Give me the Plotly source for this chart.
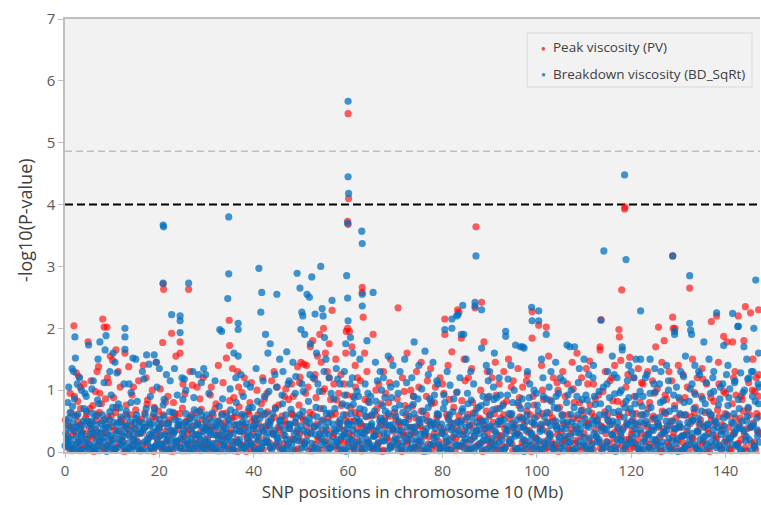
import plotly.graph_objects as go

# ---------------- data ----------------
# Peak viscosity (PV) -- higher/scattered SNPs
pv_high = [
(1.9,2.04),(2.4,1.28),(2.9,1.22),(3.2,1.05),(4.9,1.78),(5.5,1.15),(6.8,1.3),(7.1,1.38),(7.4,0.95),(8.0,2.15),
(8.3,2.02),(8.9,2.02),(9.2,1.12),(9.6,1.55),(10.1,1.48),(10.8,1.65),(11.3,1.3),(12.7,1.6),(13.5,1.38),(14.5,1.05),
(16.6,1.4),(17.2,1.2),(18.5,1.0),(19.4,1.45),(20.7,1.77),(20.8,2.72),(20.9,2.63),(22.6,1.92),(23.5,1.55),(24.4,1.78),
(24.4,1.6),(25.0,1.1),(26.2,2.63),(26.5,1.3),(28.0,1.05),(29.3,1.2),
(31.0,1.05),(32.5,1.4),(34.8,2.13),(34.9,1.72),(34.2,1.52),(35.5,1.35),(36.6,1.3),(36.8,1.05),(38.0,1.2),(39.5,1.12),
(41.9,1.2),(42.8,0.95),(44.3,1.3),(45.0,1.05),(46.5,0.9),(48.0,1.1),(49.3,1.38),(49.8,1.21),(50.0,1.45),(50.6,1.42),
(51.2,1.4),(52.0,1.7),(52.5,1.8),(53.0,1.25),(53.5,1.55),(54.0,1.9),(54.3,1.45),(54.8,2.0),(55.2,1.6),(55.6,1.3),
(56.0,1.75),(56.6,2.29),(57.0,1.1),(57.4,1.5),(58.0,0.95),(58.5,1.25),(59.6,1.95),(59.9,2.0),(60.0,5.47),(60.1,4.10),
(59.9,3.73),(60.0,3.68),(59.5,1.6),
(60.3,1.95),(60.8,1.7),(61.5,1.4),(62.0,1.2),(63.0,2.66),(63.0,2.58),(63.2,2.18),(63.5,1.6),(64.0,1.3),(65.3,1.9),
(66.5,1.1),(67.5,1.3),(68.0,0.95),(69.0,1.5),(70.6,2.33),(71.5,1.2),(72.5,1.6),(73.3,1.0),(74.5,1.3),(75.5,1.45),
(76.8,1.15),(77.5,1.35),(78.5,1.05),(79.5,1.2),(80.5,2.15),(80.5,1.9),(81.2,1.4),(82.0,1.62),(83.2,2.3),(83.5,2.26),
(84.0,1.84),(84.6,1.5),(85.5,1.2),(86.2,1.35),(87.1,3.64),(86.9,2.33),(88.3,2.42),(88.8,1.78),(89.5,1.3),
(90.5,1.2),(91.2,1.45),(92.0,1.1),(93.0,1.3),(94.0,1.5),(95.0,1.15),(96.0,1.35),(97.0,1.05),(98.0,1.25),(99.0,2.27),
(99.0,1.84),(100.4,2.05),(101.0,1.4),(102.0,2.02),(102.5,1.55),(103.5,1.2),(104.5,1.0),(105.5,1.3),(106.5,1.1),(107.5,1.45),
(108.5,1.6),(109.5,1.2),(110.5,1.35),(111.2,1.47),(112.0,1.1),(113.4,1.7),(113.4,1.65),(113.6,2.14),(114.5,1.3),(115.5,1.15),
(116.5,1.4),(117.4,1.98),(117.5,1.86),(117.8,1.48),(118.0,2.62),(118.6,3.93),(118.7,3.96),(119.3,1.25),(119.7,1.53),
(120.5,1.2),(121.5,1.35),(122.5,1.1),(123.5,1.3),(124.5,1.15),(125.2,1.7),(125.8,2.02),(126.5,1.45),(127.0,1.8),(128.0,1.3),
(128.8,3.17),(128.8,2.18),(128.9,2.0),(129.3,2.0),(130.0,1.4),(131.0,1.25),(132.4,2.65),(133.0,1.5),(134.0,1.2),(135.0,1.35),
(136.0,1.1),(137.0,2.11),(138.1,2.2),(138.5,1.45),(139.6,1.87),(140.3,1.78),(141.5,1.78),(142.0,1.3),(142.7,2.2),(143.9,1.8),
(144.2,2.35),(145.3,2.25),(145.8,1.5),(146.5,1.2),(147.0,2.3),
]
# PV -- intermediate level (about 0.7 to 1.25)
pv_mid = [
(1.1,0.95),(2.7,0.82),(4.0,1.1),(5.3,0.7),(6.4,0.98),(7.7,0.78),(9.0,1.2),(10.3,0.88),(11.7,1.05),(13.0,0.76),
(14.2,0.92),(15.6,1.15),(17.5,0.84),(18.9,0.72),(20.2,1.02),(21.8,0.9),(23.0,0.8),(25.4,0.94),(27.0,1.08),(28.6,0.86),
(30.8,0.92),(32.0,0.78),(33.5,1.12),(35.8,0.88),(37.5,0.96),(39.2,0.8),(40.7,1.0),(42.3,0.86),(43.8,1.15),(45.3,0.76),
(46.8,1.02),(48.4,0.9),(49.7,1.12),(51.5,1.05),(52.9,1.18),(54.6,0.98),(56.0,1.2),(57.6,0.84),(59.1,1.1),
(61.0,0.9),(62.6,1.15),(64.2,0.82),(65.9,1.0),(67.0,0.78),(68.8,1.12),(70.4,0.86),(71.9,0.98),(73.6,0.74),(75.0,1.05),
(76.6,0.9),(78.3,0.8),(80.0,1.1),(81.5,0.85),(83.0,0.96),(84.8,1.15),(86.4,0.8),(88.1,1.0),(89.6,0.88),
(91.4,0.92),(92.9,0.78),(94.6,1.05),(96.3,0.88),(97.8,1.15),(99.4,0.76),(101.2,1.0),(102.8,0.84),(104.3,1.12),(106.0,0.9),
(107.7,1.02),(109.1,0.8),(110.8,1.1),(112.4,0.86),(114.0,0.98),(115.9,1.2),(117.1,0.82),(118.9,1.05),
(120.7,0.9),(122.2,1.12),(123.9,0.8),(125.5,1.02),(127.2,0.92),(128.6,1.15),(130.3,0.84),(131.9,1.05),(133.4,0.96),(135.2,1.18),
(136.9,0.88),(138.6,1.1),(140.0,0.95),(141.7,1.2),(143.3,0.9),(144.9,1.12),(146.2,0.98),(147.1,1.25),
]

# PV -- dense low band
pv_band_a = [
(0.3,0.15),(0.7,0.42),(1.0,0.05),(1.4,0.63),(1.7,0.28),(2.0,0.9),(2.4,0.12),(2.8,0.48),(3.1,0.02),(3.3,0.7),
(3.7,0.33),(4.1,0.09),(4.4,0.55),(4.8,0.21),(5.2,0.38),(5.6,0.04),(5.9,0.75),(6.3,0.26),(6.6,0.51),(7.0,0.11),
(7.3,0.64),(7.8,0.3),(8.2,0.07),(8.6,0.86),(8.9,0.45),(9.3,0.18),(9.8,0.58),(10.2,0.03),(10.5,0.35),(10.9,0.72),
(11.4,0.14),(11.8,0.5),(12.1,0.24),(12.5,0.01),(12.9,0.61),(13.3,0.37),(13.8,0.08),(14.1,0.44),(14.6,0.19),(15.0,0.68),
(15.4,0.29),(15.8,0.02),(16.2,0.53),(16.5,0.13),(17.0,0.4),(17.4,0.77),(17.7,0.22),(18.2,0.06),(18.6,0.57),(19.0,0.32),
(19.3,0.1),(19.8,0.66),(20.1,0.27),(20.5,0.46),(21.0,0.05),(21.3,0.81),(21.7,0.2),(22.1,0.52),(22.5,0.34),(22.8,0.01),
(23.3,0.62),(23.7,0.16),(24.0,0.43),(24.5,0.07),(24.9,0.71),(25.2,0.25),(25.7,0.5),(26.0,0.12),(26.4,0.36),(26.9,0.6),
(27.3,0.03),(27.6,0.28),(28.1,0.47),(28.5,0.15),(28.9,0.69),(29.2,0.09),(29.7,0.39),
]
pv_band_b = [
(30.2,0.22),(30.6,0.55),(31.0,0.08),(31.3,0.4),(31.8,0.7),(32.1,0.14),(32.5,0.31),(32.9,0.02),(33.3,0.62),(33.6,0.26),
(34.0,0.48),(34.5,0.1),(34.9,0.83),(35.2,0.35),(35.7,0.05),(36.0,0.57),(36.4,0.2),(36.9,0.73),(37.2,0.12),(37.6,0.44),
(38.0,0.29),(38.4,0.01),(38.8,0.66),(39.1,0.17),(39.6,0.5),(40.0,0.07),(40.4,0.38),(40.9,0.6),(41.2,0.23),(41.6,0.78),
(42.0,0.04),(42.5,0.42),(42.9,0.65),(43.3,0.15),(43.7,0.53),(44.2,0.3),(44.6,0.72),(45.0,0.09),(45.5,0.36),(46.0,0.58),
(46.4,0.13),(46.9,0.45),(47.4,0.85),(47.8,0.21),(48.3,0.6),(48.7,0.03),(49.1,0.33),(49.6,0.76),(50.0,0.18),(50.5,0.52),
(51.0,0.95),(51.4,0.27),(51.9,0.64),(52.3,0.06),(52.8,0.41),(53.2,0.88),(53.6,0.2),(54.1,0.7),(54.5,0.34),(55.0,1.02),
(55.4,0.12),(55.8,0.55),(56.3,0.85),(56.8,0.25),(57.3,0.62),(57.8,0.04),(58.2,0.4),(58.6,0.75),(59.0,0.16),(59.4,0.5),
(59.8,0.92),
]
pv_band_c = [
(60.2,0.3),(60.5,0.72),(60.9,0.08),(61.3,0.5),(61.6,1.05),(62.0,0.19),(62.4,0.62),(62.8,0.02),(63.2,0.41),(63.6,0.85),
(64.0,0.13),(64.4,0.35),(64.9,0.58),(65.3,0.05),(65.7,0.27),(66.1,0.7),(66.5,0.16),(66.9,0.44),(67.3,0.01),(67.8,0.55),
(68.2,0.23),(68.6,0.8),(69.0,0.1),(69.5,0.38),(69.9,0.64),(70.3,0.2),(70.8,0.47),(71.2,0.04),(71.6,0.32),(72.1,0.75),
(72.5,0.14),(72.9,0.53),(73.3,0.28),(73.8,0.9),(74.2,0.07),(74.6,0.42),(75.1,0.18),(75.5,0.66),(75.9,0.35),(76.4,0.02),
(76.8,0.5),(77.2,0.25),(77.7,0.78),(78.1,0.11),(78.5,0.45),(79.0,0.6),(79.4,0.06),(79.8,0.31),(80.3,0.95),(80.7,0.17),
(81.1,0.56),(81.6,0.03),(82.0,0.4),(82.4,0.72),(82.9,0.22),(83.3,0.5),(83.7,0.09),(84.1,0.83),(84.6,0.34),(85.0,0.15),
(85.4,0.61),(85.9,0.04),(86.3,0.44),(86.7,0.26),(87.2,0.7),(87.6,0.12),(88.0,0.52),(88.5,0.01),(88.9,0.37),(89.3,0.66),
(89.7,0.2),
]
pv_band_d = [
(90.3,0.15),(90.7,0.48),(91.1,0.04),(91.5,0.7),(91.9,0.27),(92.3,0.55),(92.8,0.1),(93.2,0.38),(93.6,0.82),(94.1,0.2),
(94.5,0.6),(94.9,0.02),(95.3,0.44),(95.8,0.31),(96.2,0.75),(96.6,0.08),(97.1,0.52),(97.5,0.18),(97.9,0.66),(98.4,0.35),
(98.8,0.01),(99.2,0.9),(99.6,0.24),(100.1,0.58),(100.5,0.12),(100.9,0.42),(101.4,0.85),(101.8,0.05),(102.2,0.33),(102.7,0.63),
(103.1,0.16),(103.5,0.5),(104.0,0.07),(104.4,0.28),(104.8,0.72),(105.3,0.13),(105.7,0.46),(106.1,0.22),(106.6,0.6),(107.0,0.03),
(107.4,0.37),(107.9,0.8),(108.3,0.19),(108.7,0.54),(109.2,0.09),(109.6,0.68),(110.0,0.3),(110.5,0.02),(110.9,0.45),(111.3,0.76),
(111.8,0.14),(112.2,0.57),(112.6,0.25),(113.1,0.92),(113.5,0.06),(113.9,0.4),(114.4,0.65),(114.8,0.17),(115.2,0.5),(115.7,0.03),
(116.1,0.83),(116.5,0.32),(117.0,0.11),(117.4,0.6),(117.8,0.26),(118.3,0.78),(118.7,0.05),(119.1,0.47),(119.6,0.2),
]
pv_band_e = [
(120.2,0.35),(120.6,0.08),(121.0,0.62),(121.4,0.2),(121.9,0.8),(122.3,0.04),(122.7,0.46),(123.2,0.27),(123.6,0.7),(124.0,0.12),
(124.5,0.53),(124.9,0.95),(125.3,0.18),(125.8,0.4),(126.2,0.02),(126.6,0.66),(127.1,0.3),(127.5,0.85),(127.9,0.1),(128.4,0.5),
(128.8,0.24),(129.2,0.75),(129.7,0.06),(130.1,0.42),(130.5,0.6),(131.0,0.15),(131.4,0.88),(131.8,0.33),(132.3,0.03),(132.7,0.57),
(133.1,0.22),(133.6,0.72),(134.0,0.09),(134.4,0.45),(134.9,0.9),(135.3,0.17),(135.7,0.64),(136.2,0.37),(136.6,0.01),(137.0,0.52),
(137.5,0.82),(137.9,0.26),(138.3,0.68),(138.8,0.11),(139.2,0.44),(139.6,0.98),(140.1,0.2),(140.5,0.58),(140.9,0.05),(141.4,0.78),
(141.8,0.32),(142.2,0.92),(142.7,0.14),(143.1,0.55),(143.5,0.85),(144.0,0.28),(144.4,0.02),(144.8,0.7),(145.3,0.4),(145.7,1.0),
(146.1,0.16),(146.6,0.62),(147.0,0.9),(147.2,0.3),
]
pv_band_f = [
(0.1,0.52),(0.5,0.27),(0.9,0.1),(1.3,0.4),(1.6,0.02),(2.1,0.33),(2.5,0.58),(2.9,0.19),(3.4,0.44),(3.8,0.06),
(4.3,0.29),(4.6,0.62),(5.0,0.13),(5.4,0.47),(5.8,0.24),(6.1,0.01),(6.5,0.36),(6.8,0.6),(7.5,0.2),(7.9,0.5),
(8.4,0.03),(8.7,0.31),(9.1,0.56),(9.5,0.11),(9.9,0.41),(10.4,0.22),(10.7,0.64),(11.1,0.07),(11.6,0.34),(12.0,0.53),
(12.4,0.16),(12.8,0.45),(13.1,0.02),(13.6,0.28),(14.0,0.6),(14.4,0.09),(14.8,0.38),(15.2,0.18),(15.7,0.5),(16.0,0.04),
(16.4,0.31),(16.9,0.63),(17.3,0.12),(17.9,0.46),(18.4,0.26),(18.8,0.01),(19.2,0.55),(19.6,0.2),(20.0,0.4),(20.3,0.08),
(20.8,0.6),(21.2,0.33),(21.5,0.14),(21.9,0.48),(22.3,0.05),(22.7,0.28),(23.1,0.57),(23.5,0.1),(23.9,0.36),(24.3,0.62),
(24.7,0.19),(25.1,0.43),(25.5,0.02),(25.9,0.3),(26.3,0.54),(26.7,0.12),(27.2,0.42),(27.5,0.2),(27.9,0.64),(28.3,0.06),
(28.8,0.33),(29.1,0.52),(29.6,0.15),(29.9,0.05),
(30.1,0.45),(30.5,0.1),(30.9,0.36),(31.4,0.6),(31.7,0.03),(32.2,0.27),(32.6,0.5),(33.0,0.12),(33.4,0.41),(33.8,0.21),
(34.2,0.63),(34.6,0.05),(35.0,0.3),(35.4,0.55),(35.9,0.16),(36.2,0.44),(36.6,0.01),(37.0,0.34),(37.4,0.58),(37.8,0.11),
(38.2,0.4),(38.6,0.22),(39.0,0.61),(39.4,0.04),(39.8,0.29),(40.2,0.52),(40.6,0.14),(41.0,0.46),(41.4,0.02),(41.8,0.35),
(42.2,0.6),(42.7,0.18),(43.1,0.43),(43.5,0.07),(43.9,0.31),(44.4,0.56),(44.8,0.13),(45.2,0.4),(45.7,0.03),(46.2,0.27),
(46.6,0.5),(47.1,0.1),(47.6,0.38),(48.0,0.62),(48.5,0.2),(48.9,0.47),(49.4,0.05),(49.8,0.3),(50.3,0.57),(50.8,0.15),
(51.2,0.42),(51.7,0.02),(52.1,0.33),(52.5,0.6),(53.0,0.12),(53.4,0.45),(53.8,0.24),(54.3,0.03),(54.7,0.52),(55.2,0.18),
(55.6,0.36),(56.1,0.07),(56.5,0.6),(57.0,0.3),(57.5,0.1),(58.0,0.48),(58.4,0.2),(58.9,0.04),(59.2,0.35),(59.6,0.6),
(60.0,0.15),(60.4,0.5),(60.8,0.26),(61.2,0.04),(61.5,0.64),(61.9,0.38),(62.3,0.12),(62.7,0.46),(63.1,0.02),(63.5,0.3),
(63.9,0.57),(64.3,0.17),(64.7,0.42),(65.1,0.06),(65.5,0.35),(65.9,0.6),(66.3,0.11),(66.7,0.28),(67.1,0.5),(67.5,0.03),
(67.9,0.4),(68.4,0.2),(68.8,0.58),(69.2,0.08),(69.7,0.33),(70.1,0.53),(70.5,0.14),(71.0,0.44),(71.4,0.01),(71.8,0.27),
(72.3,0.6),(72.7,0.18),(73.1,0.4),(73.6,0.05),(74.0,0.31),(74.4,0.55),(74.9,0.1),
]
pv_band_g = [
(75.3,0.42),(75.7,0.02),(76.2,0.26),(76.6,0.6),(77.0,0.13),(77.5,0.45),(77.9,0.05),(78.3,0.3),(78.8,0.56),(79.2,0.17),
(79.6,0.4),(80.1,0.07),(80.5,0.33),(80.9,0.61),(81.4,0.12),(81.8,0.47),(82.2,0.24),(82.7,0.02),(83.1,0.38),(83.5,0.59),
(84.0,0.1),(84.4,0.28),(84.8,0.52),(85.2,0.05),(85.7,0.41),(86.1,0.19),(86.5,0.63),(87.0,0.08),(87.4,0.35),(87.8,0.55),
(88.3,0.15),(88.7,0.44),(89.1,0.03),(89.5,0.3),(89.9,0.58),
(90.1,0.1),(90.5,0.37),(91.0,0.62),(91.3,0.2),(91.8,0.04),(92.2,0.45),(92.6,0.26),(93.0,0.6),(93.4,0.08),(93.9,0.34),
(94.3,0.53),(94.7,0.13),(95.1,0.4),(95.6,0.02),(96.0,0.29),(96.4,0.57),(96.9,0.16),(97.3,0.43),(97.7,0.05),(98.2,0.32),
(98.6,0.6),(99.0,0.11),(99.4,0.46),(99.9,0.22),(100.3,0.03),(100.7,0.38),(101.2,0.62),(101.6,0.17),(102.0,0.48),(102.4,0.07),
(102.9,0.27),(103.3,0.55),(103.8,0.12),(104.2,0.42),(104.6,0.01),(105.1,0.33),(105.5,0.6),(105.9,0.19),(106.4,0.44),(106.8,0.06),
(107.2,0.3),(107.7,0.54),(108.1,0.14),(108.5,0.38),(109.0,0.02),(109.4,0.25),(109.8,0.58),(110.3,0.1),(110.7,0.47),(111.1,0.2),
(111.6,0.63),(112.0,0.04),(112.4,0.36),(112.9,0.52),(113.3,0.16),(113.7,0.42),(114.2,0.07),(114.6,0.3),(115.0,0.6),(115.5,0.13),
(115.9,0.45),(116.3,0.22),(116.8,0.03),(117.2,0.37),(117.6,0.57),(118.1,0.1),(118.5,0.4),(118.9,0.2),(119.4,0.64),(119.8,0.05),
(120.0,0.28),(120.4,0.52),(120.8,0.13),(121.3,0.44),(121.7,0.03),(122.1,0.3),(122.5,0.6),(123.0,0.17),(123.4,0.41),(123.8,0.07),
(124.3,0.35),(124.7,0.58),(125.1,0.1),(125.6,0.47),(126.0,0.24),(126.4,0.01),(126.9,0.38),(127.3,0.62),(127.7,0.15),(128.2,0.43),
(128.6,0.05),(129.0,0.32),(129.5,0.55),(129.9,0.19),(130.3,0.4),(130.8,0.02),(131.2,0.27),(131.6,0.6),(132.1,0.12),(132.5,0.46),
(132.9,0.23),(133.4,0.64),(133.8,0.06),(134.2,0.34),(134.7,0.52),(135.1,0.14),(135.5,0.42),(136.0,0.03),(136.4,0.3),(136.8,0.6),
(137.3,0.1),(137.7,0.44),(138.1,0.21),(138.6,0.57),(139.0,0.05),(139.4,0.36),(139.9,0.62),(140.3,0.16),(140.7,0.4),(141.2,0.02),
(141.6,0.28),(142.0,0.55),(142.5,0.11),(142.9,0.45),(143.3,0.2),(143.8,0.66),(144.2,0.07),(144.6,0.38),(145.1,0.6),(145.5,0.14),
(145.9,0.47),(146.4,0.04),(146.8,0.33),(147.2,0.58),
]

# Breakdown viscosity (BD_SqRt) -- higher/scattered SNPs
bd_high = [
(0.6,0.8),(1.5,1.35),(1.8,1.3),(2.1,1.86),(2.2,1.52),(2.6,1.1),(3.5,1.0),(4.2,0.95),(5.0,1.73),(6.0,1.15),
(7.0,1.5),(7.4,1.78),(8.5,1.65),(8.7,1.88),(9.5,1.3),(10.2,1.6),(10.6,1.45),(11.0,1.28),(12.7,2.0),(12.7,1.86),
(12.7,1.66),(13.6,1.1),(14.4,1.52),(15.0,1.5),(16.4,1.3),(17.3,1.57),(17.8,1.42),(18.9,1.57),(19.3,1.45),(20.0,1.35),
(20.8,3.67),(20.9,3.64),(20.8,2.73),(21.5,1.25),(22.6,2.22),(23.2,1.35),(24.4,2.2),(24.4,2.12),(24.4,1.93),(24.8,1.2),
(25.3,1.18),(26.2,2.73),(27.1,1.3),(28.3,1.25),(29.4,1.35),(29.8,1.25),
(32.8,1.98),(33.2,1.95),(34.7,3.80),(34.7,2.88),(34.5,2.48),(35.8,1.6),(36.7,2.08),(36.7,1.98),(36.7,1.55),(37.3,1.25),
(38.5,1.1),(40.5,1.35),(41.1,2.97),(41.7,2.58),(41.5,2.26),(42.5,1.9),(43.0,1.6),(43.5,1.75),(44.9,2.55),(45.5,1.5),
(46.2,1.3),(47.0,1.62),(47.5,1.15),(48.3,1.45),(49.2,2.89),(49.8,2.65),(50.2,2.26),(50.4,2.2),(50.0,1.98),(50.8,1.9),
(51.3,2.55),(51.8,2.5),(52.3,2.83),(52.0,1.75),(53.0,2.23),(53.3,1.6),(54.2,3.0),(54.5,2.32),(54.7,2.2),(55.0,1.85),
(55.3,1.5),(56.6,2.45),(56.0,1.2),(57.5,1.35),(58.3,1.1),(59.2,1.3),(59.7,2.85),(59.9,2.49),(60.0,2.12),(60.0,5.67),
(60.0,4.45),(60.1,4.18),(59.9,3.70),(59.5,1.75),
(60.5,1.85),(61.0,1.6),(62.9,3.57),(63.0,3.37),(63.0,2.55),(63.0,2.36),(62.5,1.5),(64.0,1.8),(65.3,2.58),(65.8,1.45),
(66.8,1.3),(67.5,1.2),(68.5,1.55),(69.5,1.4),(70.2,1.1),(71.0,1.3),(72.0,1.5),(73.5,1.2),(74.0,1.78),(75.0,1.4),
(76.3,1.63),(77.0,1.25),(78.0,1.45),(79.0,1.1),(80.5,1.98),(81.0,1.3),(82.0,2.15),(82.0,2.0),(83.0,2.2),(83.3,2.22),
(84.3,2.37),(84.0,1.9),(84.5,1.9),(85.0,1.5),(86.0,1.3),(86.9,2.42),(86.9,2.36),(87.1,3.17),(88.3,2.3),(88.3,1.68),
(89.3,1.4),
(90.0,1.3),(91.0,1.6),(92.0,1.2),(93.4,1.95),(93.4,1.87),(94.5,1.4),(95.5,1.73),(96.5,1.7),(97.0,1.7),(97.3,1.68),
(98.0,1.3),(98.9,2.34),(99.0,2.12),(100.4,2.28),(100.4,2.12),(101.0,1.5),(102.0,1.9),(103.0,1.3),(104.0,1.45),(105.0,1.2),
(106.4,1.73),(107.0,1.7),(108.0,1.7),(109.0,1.35),(110.0,1.5),(111.0,1.25),(112.0,1.4),(113.6,2.13),(114.2,3.25),(115.0,1.3),
(116.0,1.55),(117.0,1.2),(118.1,1.65),(118.1,1.7),(118.6,4.48),(118.9,3.11),(119.5,1.4),
(120.0,1.3),(121.0,1.5),(122.0,2.28),(122.0,1.5),(123.0,1.2),(124.0,1.5),(125.0,1.35),(126.0,1.1),(127.5,1.4),(128.8,3.17),
(129.2,1.95),(129.2,1.9),(130.5,1.3),(131.5,1.55),(132.4,2.85),(132.4,2.08),(132.6,1.97),(132.8,1.9),(133.5,1.4),(134.5,1.25),
(135.4,1.78),(136.5,1.5),(137.5,1.3),(138.1,2.25),(139.6,1.72),(140.5,1.4),(141.5,2.24),(142.6,2.03),(142.7,2.03),(143.9,1.7),
(144.5,1.5),(145.5,1.3),(146.0,2.0),(146.4,2.78),(147.0,1.6),
]
# BD -- intermediate level (about 0.8 to 1.3)
bd_mid = [
(0.8,1.05),(2.0,0.86),(3.1,1.2),(4.5,0.9),(5.7,1.02),(6.9,0.84),(8.3,1.12),(9.8,0.92),(11.3,0.78),(12.5,1.1),
(14.0,0.96),(15.3,0.82),(16.7,1.18),(18.1,0.9),(19.5,1.05),(21.0,0.85),(22.3,1.15),(23.8,0.92),(25.6,1.0),(27.3,0.88),
(28.9,1.12),
(30.5,0.95),(31.8,1.15),(33.4,0.86),(35.0,1.02),(36.2,1.2),(37.8,0.9),(39.3,1.05),(40.8,0.82),(42.0,1.15),(43.2,0.98),
(44.5,1.25),(46.0,0.92),(47.3,1.1),(48.9,1.22),(50.5,0.98),(51.9,1.25),(53.6,1.1),(54.9,1.3),(56.4,0.95),(57.8,1.18),
(59.3,0.92),
(60.9,1.2),(61.9,0.98),(63.6,1.1),(64.8,0.9),(66.2,1.15),(67.8,0.88),(69.0,1.05),(70.6,0.95),(72.4,1.12),(73.9,0.9),
(75.6,1.02),(77.3,0.86),(78.8,1.15),(80.3,0.92),(81.6,1.08),(83.7,1.2),(85.3,0.95),(86.6,1.1),(88.6,0.9),(89.7,1.15),
(90.8,1.05),(92.3,0.92),(93.9,1.18),(95.2,1.0),(96.9,0.86),(98.5,1.1),(99.9,0.95),(101.3,1.2),(102.6,1.05),(104.1,0.9),
(105.6,1.15),(107.3,1.0),(108.8,1.12),(110.4,0.92),(111.9,1.2),(113.2,0.98),(114.9,1.1),(116.4,1.25),(117.9,1.0),(119.2,1.15),
(120.6,1.2),(121.9,0.98),(123.3,1.25),(124.8,1.1),(126.3,1.3),(127.9,1.15),(129.6,1.05),(131.1,1.22),(132.9,1.1),(134.3,1.3),
(135.9,1.12),(137.3,1.2),(138.9,1.05),(140.2,1.25),(141.9,1.12),(143.2,1.28),(144.7,1.18),(145.8,1.3),(146.9,1.1),
]

# BD -- dense low band
bd_band_a = [
(0.2,0.3),(0.5,0.08),(0.9,0.55),(1.2,0.2),(1.6,0.74),(1.9,0.04),(2.3,0.4),(2.7,0.61),(3.0,0.15),(3.4,0.27),
(3.9,0.5),(4.2,0.02),(4.6,0.66),(5.1,0.12),(5.4,0.45),(5.8,0.31),(6.2,0.07),(6.5,0.58),(6.9,0.23),(7.2,0.78),
(7.6,0.1),(8.1,0.37),(8.4,0.52),(8.8,0.01),(9.1,0.29),(9.5,0.65),(10.0,0.14),(10.4,0.48),(10.8,0.06),(11.2,0.34),
(11.6,0.71),(12.0,0.18),(12.4,0.42),(12.8,0.03),(13.2,0.56),(13.7,0.25),(14.0,0.8),(14.4,0.11),(14.8,0.38),(15.2,0.6),
(15.6,0.05),(16.0,0.32),(16.4,0.47),(16.8,0.16),(17.2,0.7),(17.6,0.02),(18.0,0.43),(18.4,0.26),(18.8,0.62),(19.2,0.09),
(19.6,0.35),(20.0,0.53),(20.4,0.13),(20.8,0.76),(21.2,0.28),(21.6,0.04),(22.0,0.46),(22.4,0.19),(22.9,0.64),(23.2,0.33),
(23.6,0.07),(24.1,0.5),(24.6,0.22),(25.0,0.85),(25.4,0.12),(25.8,0.41),(26.2,0.02),(26.6,0.57),(27.0,0.3),(27.4,0.68),
(27.8,0.1),(28.2,0.44),(28.7,0.2),(29.0,0.59),(29.4,0.06),(29.9,0.36),
]
bd_band_b = [
(30.4,0.4),(30.8,0.12),(31.2,0.63),(31.6,0.28),(32.0,0.05),(32.3,0.5),(32.7,0.74),(33.1,0.19),(33.5,0.36),(33.9,0.02),
(34.3,0.58),(34.7,0.25),(35.1,0.68),(35.5,0.09),(35.9,0.44),(36.3,0.8),(36.7,0.15),(37.1,0.33),(37.5,0.61),(37.9,0.06),
(38.3,0.47),(38.7,0.22),(39.0,0.71),(39.4,0.11),(39.9,0.38),(40.2,0.55),(40.7,0.03),(41.0,0.3),(41.4,0.66),(41.9,0.14),
(42.3,0.9),(42.7,0.24),(43.1,0.49),(43.5,0.08),(44.0,0.62),(44.4,0.35),(44.8,1.05),(45.3,0.17),(45.7,0.52),(46.1,0.78),
(46.6,0.27),(47.0,0.04),(47.5,0.45),(47.9,0.69),(48.4,0.2),(48.8,0.95),(49.3,0.37),(49.7,0.6),(50.2,1.1),(50.7,0.13),
(51.1,0.5),(51.6,0.82),(52.1,0.3),(52.6,1.2),(53.0,0.07),(53.4,0.57),(53.9,0.98),(54.3,0.22),(54.8,0.7),(55.2,0.4),
(55.7,0.05),(56.1,0.63),(56.5,0.18),(57.0,0.86),(57.4,0.33),(57.9,0.1),(58.3,0.52),(58.8,0.78),(59.1,0.26),(59.6,0.01),
(59.9,0.47),
]
bd_band_c = [
(60.1,0.45),(60.4,1.1),(60.7,0.2),(61.1,0.77),(61.4,0.04),(61.8,0.55),(62.2,0.9),(62.6,0.32),(63.0,0.12),(63.4,0.68),
(63.8,0.41),(64.2,0.95),(64.6,0.07),(65.0,0.6),(65.4,0.25),(65.9,0.82),(66.3,0.14),(66.7,0.5),(67.1,1.0),(67.5,0.3),
(67.9,0.66),(68.4,0.02),(68.8,0.43),(69.2,0.88),(69.7,0.18),(70.1,0.58),(70.5,0.36),(70.9,0.76),(71.4,0.09),(71.8,0.48),
(72.3,0.22),(72.7,0.7),(73.1,0.05),(73.5,0.4),(74.0,0.62),(74.4,0.15),(74.8,0.86),(75.3,0.29),(75.7,0.53),(76.1,0.01),
(76.6,0.38),(77.0,0.72),(77.4,0.12),(77.9,0.47),(78.3,0.92),(78.7,0.24),(79.2,0.6),(79.6,0.08),(80.0,0.35),(80.5,0.8),
(80.9,0.16),(81.3,0.52),(81.8,0.03),(82.2,0.65),(82.6,0.3),(83.1,0.97),(83.5,0.11),(83.9,0.45),(84.3,0.7),(84.8,0.21),
(85.2,0.56),(85.6,0.04),(86.1,0.84),(86.5,0.33),(86.9,0.63),(87.4,0.1),(87.8,0.42),(88.2,0.75),(88.7,0.19),(89.1,0.5),
(89.6,0.06),(89.9,0.9),
]
bd_band_d = [
(90.1,0.6),(90.5,0.22),(90.9,0.85),(91.3,0.1),(91.7,0.45),(92.1,0.7),(92.5,0.03),(93.0,0.52),(93.4,0.3),(93.8,0.92),
(94.3,0.14),(94.7,0.62),(95.1,0.4),(95.5,0.06),(96.0,0.8),(96.4,0.27),(96.8,0.55),(97.3,0.01),(97.7,0.35),(98.1,0.75),
(98.6,0.18),(99.0,0.48),(99.4,1.0),(99.8,0.09),(100.3,0.66),(100.7,0.33),(101.1,0.04),(101.6,0.57),(102.0,0.86),(102.4,0.2),
(102.9,0.43),(103.3,0.12),(103.7,0.72),(104.2,0.37),(104.6,0.95),(105.0,0.07),(105.5,0.5),(105.9,0.26),(106.3,0.8),(106.8,0.15),
(107.2,0.61),(107.6,0.02),(108.1,0.42),(108.5,0.9),(108.9,0.31),(109.4,0.67),(109.8,0.11),(110.2,0.54),(110.7,0.84),(111.1,0.23),
(111.5,0.04),(112.0,0.46),(112.4,0.77),(112.8,0.16),(113.3,0.6),(113.7,0.34),(114.1,1.05),(114.6,0.08),(115.0,0.52),(115.4,0.88),
(115.9,0.28),(116.3,0.64),(116.7,0.01),(117.2,0.4),(117.6,0.96),(118.0,0.19),(118.5,0.56),(118.9,0.82),(119.3,0.13),(119.8,0.7),
]
bd_band_e = [
(120.1,0.5),(120.4,0.15),(120.8,0.78),(121.2,0.3),(121.7,0.02),(122.1,0.6),(122.5,0.9),(122.9,0.22),(123.4,0.45),(123.8,0.08),
(124.2,0.72),(124.7,0.35),(125.1,0.97),(125.5,0.12),(126.0,0.56),(126.4,0.28),(126.8,0.83),(127.3,0.04),(127.7,0.42),(128.1,0.66),
(128.6,0.18),(129.0,0.92),(129.4,0.37),(129.9,0.01),(130.3,0.62),(130.7,0.25),(131.2,0.8),(131.6,0.1),(132.0,0.48),(132.5,1.02),
(132.9,0.3),(133.3,0.7),(133.8,0.05),(134.2,0.55),(134.6,0.2),(135.1,0.86),(135.5,0.4),(135.9,0.13),(136.4,0.65),(136.8,0.95),
(137.2,0.27),(137.7,0.5),(138.1,0.07),(138.5,0.76),(139.0,0.34),(139.4,1.1),(139.8,0.16),(140.3,0.6),(140.7,0.88),(141.1,0.23),
(141.6,0.46),(142.0,1.15),(142.4,0.09),(142.9,0.7),(143.3,0.38),(143.7,0.96),(144.2,0.18),(144.6,0.58),(145.0,1.2),(145.5,0.03),
(145.9,0.44),(146.3,0.82),(146.8,0.26),(147.1,1.05),
]
bd_band_f = [
(0.0,0.1),(0.4,0.47),(0.7,0.22),(1.1,0.64),(1.4,0.07),(1.8,0.35),(2.2,0.58),(2.6,0.15),(2.9,0.42),(3.3,0.03),
(3.6,0.3),(4.0,0.7),(4.4,0.2),(4.8,0.5),(5.2,0.05),(5.6,0.38),(6.0,0.62),(6.3,0.14),(6.7,0.44),(7.1,0.02),
(7.4,0.3),(7.9,0.6),(8.2,0.18),(8.6,0.4),(9.0,0.08),(9.4,0.52),(9.7,0.26),(10.1,0.72),(10.6,0.03),(11.0,0.45),
(11.4,0.2),(11.8,0.57),(12.2,0.1),(12.6,0.32),(13.0,0.66),(13.4,0.14),(13.9,0.48),(14.2,0.04),(14.6,0.28),(15.0,0.54),
(15.4,0.16),(15.8,0.43),(16.2,0.02),(16.6,0.36),(17.0,0.6),(17.4,0.21),(17.8,0.5),(18.2,0.08),(18.6,0.33),(19.0,0.7),
(19.4,0.12),(19.8,0.45),(20.2,0.26),(20.6,0.04),(21.0,0.58),(21.4,0.17),(21.8,0.4),(22.2,0.65),(22.6,0.09),(23.0,0.3),
(23.4,0.52),(23.8,0.18),(24.3,0.44),(24.8,0.02),(25.2,0.34),(25.6,0.62),(26.0,0.14),(26.4,0.48),(26.8,0.22),(27.2,0.05),
(27.6,0.55),(28.0,0.28),(28.5,0.66),(28.9,0.11),(29.2,0.4),(29.7,0.2),
(30.0,0.6),(30.3,0.05),(30.7,0.32),(31.1,0.5),(31.5,0.14),(31.9,0.42),(32.4,0.02),(32.8,0.27),(33.2,0.6),(33.6,0.11),
(34.0,0.38),(34.4,0.2),(34.8,0.52),(35.3,0.04),(35.7,0.3),(36.1,0.64),(36.5,0.16),(36.9,0.45),(37.3,0.07),(37.7,0.34),
(38.1,0.58),(38.5,0.12),(38.9,0.4),(39.3,0.26),(39.7,0.72),(40.1,0.02),(40.5,0.46),(40.9,0.19),(41.3,0.55),(41.7,0.08),
(42.1,0.33),(42.5,0.62),(43.0,0.15),(43.4,0.43),(43.8,0.03),(44.2,0.28),(44.6,0.7),(45.0,0.22),(45.5,0.5),(45.9,0.06),
(46.4,0.36),(46.8,0.6),(47.3,0.13),(47.7,0.44),(48.2,0.02),(48.6,0.3),(49.0,0.56),(49.5,0.18),(50.0,0.42),(50.4,0.66),
(50.9,0.08),(51.3,0.32),(51.8,0.55),(52.3,0.14),(52.8,0.4),(53.2,0.72),(53.6,0.04),(54.0,0.3),(54.5,0.5),(55.0,0.16),
(55.4,0.62),(55.9,0.28),(56.3,0.06),(56.8,0.45),(57.2,0.7),(57.7,0.2),(58.1,0.38),(58.5,0.02),(59.0,0.6),(59.4,0.3),
(59.8,0.75),
(60.2,0.09),(60.6,0.62),(61.0,0.35),(61.3,0.88),(61.7,0.15),(62.1,0.48),(62.5,0.7),(62.9,0.05),(63.3,0.3),(63.7,0.58),
(64.1,0.2),(64.5,0.8),(64.9,0.42),(65.2,0.1),(65.6,0.66),(66.0,0.34),(66.4,0.02),(66.9,0.55),(67.3,0.75),(67.7,0.18),
(68.1,0.44),(68.6,0.62),(69.0,0.07),(69.4,0.36),(69.9,0.7),(70.3,0.12),(70.7,0.5),(71.1,0.27),(71.6,0.64),(72.0,0.03),
(72.5,0.4),(72.9,0.58),(73.3,0.2),(73.8,0.77),(74.2,0.32),(74.6,0.05),(75.0,0.52),
]
bd_band_g = [
(75.5,0.18),(75.9,0.66),(76.3,0.28),(76.8,0.06),(77.2,0.5),(77.6,0.82),(78.1,0.14),(78.5,0.38),(78.9,0.62),(79.4,0.02),
(79.8,0.45),(80.2,0.7),(80.7,0.24),(81.1,0.04),(81.5,0.6),(81.9,0.36),(82.4,0.86),(82.8,0.12),(83.3,0.48),(83.7,0.28),
(84.1,0.66),(84.6,0.06),(85.0,0.4),(85.4,0.78),(85.9,0.2),(86.3,0.55),(86.7,0.02),(87.2,0.34),(87.6,0.72),(88.0,0.14),
(88.5,0.5),(88.9,0.26),(89.3,0.8),(89.8,0.4),
(90.3,0.03),(90.7,0.68),(91.1,0.34),(91.5,0.88),(92.0,0.16),(92.4,0.5),(92.8,0.75),(93.2,0.06),(93.6,0.42),(94.1,0.62),
(94.5,0.2),(94.9,0.8),(95.3,0.3),(95.8,0.52),(96.2,0.02),(96.6,0.7),(97.1,0.4),(97.5,0.12),(97.9,0.6),(98.4,0.88),
(98.8,0.28),(99.2,0.05),(99.6,0.55),(100.1,0.76),(100.5,0.18),(100.9,0.45),(101.4,0.9),(101.8,0.1),(102.2,0.64),(102.7,0.3),
(103.1,0.82),(103.5,0.04),(104.0,0.5),(104.4,0.7),(104.8,0.24),(105.3,0.6),(105.7,0.02),(106.1,0.38),(106.6,0.92),(107.0,0.16),
(107.4,0.48),(107.9,0.72),(108.3,0.06),(108.7,0.6),(109.2,0.36),(109.6,0.85),(110.0,0.14),(110.5,0.42),(110.9,0.66),(111.3,0.03),
(111.8,0.52),(112.2,0.9),(112.6,0.25),(113.1,0.44),(113.5,0.78),(113.9,0.1),(114.4,0.6),(114.8,0.36),(115.2,0.7),(115.7,0.05),
(116.1,0.5),(116.5,0.94),(117.0,0.2),(117.4,0.66),(117.8,0.3),(118.3,0.02),(118.7,0.72),(119.1,0.45),(119.5,0.88),(119.9,0.16),
(120.3,0.62),(120.7,0.38),(121.1,0.9),(121.5,0.1),(121.9,0.48),(122.3,0.74),(122.8,0.05),(123.2,0.62),(123.6,0.3),(124.0,0.95),
(124.5,0.2),(124.9,0.55),(125.3,0.02),(125.8,0.42),(126.2,0.8),(126.6,0.16),(127.1,0.64),(127.5,0.35),(127.9,1.0),(128.4,0.08),
(128.8,0.5),(129.2,0.7),(129.7,0.22),(130.1,0.88),(130.5,0.4),(131.0,0.04),(131.4,0.6),(131.8,0.28),(132.3,0.82),(132.7,0.12),
(133.1,0.52),(133.6,0.93),(134.0,0.34),(134.4,0.02),(134.9,0.66),(135.3,0.24),(135.7,0.78),(136.2,0.45),(136.6,0.08),(137.0,0.6),
(137.5,0.98),(137.9,0.16),(138.3,0.4),(138.8,0.86),(139.2,0.05),(139.6,0.55),(140.1,0.3),(140.5,0.75),(140.9,1.02),(141.4,0.12),
(141.8,0.62),(142.2,0.36),(142.7,0.85),(143.1,0.04),(143.5,0.5),(144.0,1.0),(144.4,0.25),(144.8,0.72),(145.3,0.4),(145.7,0.9),
(146.1,0.1),(146.6,0.55),(147.0,0.78),
]
bd_band_h = [
(0.3,0.2),(0.8,0.38),(1.3,0.12),(1.7,0.47),(2.4,0.25),(2.8,0.05),(3.2,0.36),(3.7,0.18),(4.1,0.44),(4.7,0.09),
(5.3,0.28),(5.7,0.5),(6.4,0.03),(6.8,0.33),(7.3,0.17),(7.7,0.46),(8.3,0.24),(8.9,0.1),(9.3,0.4),(9.9,0.2),
(10.3,0.04),(10.9,0.3),(11.5,0.48),(11.9,0.12),(12.3,0.26),(12.9,0.42),(13.5,0.06),(13.8,0.35),(14.5,0.2),(14.9,0.48),
(15.5,0.1),(15.9,0.3),(16.5,0.03),(16.9,0.4),(17.5,0.16),(17.9,0.28),(18.5,0.45),(18.9,0.07),(19.5,0.22),(19.9,0.38),
(20.5,0.12),(21.1,0.46),(21.7,0.26),(22.1,0.02),(22.7,0.35),(23.3,0.18),(23.9,0.42),(24.4,0.08),(24.9,0.3),(25.5,0.48),
(25.9,0.2),(26.5,0.05),(26.9,0.38),(27.5,0.14),(27.9,0.44),(28.4,0.26),(28.8,0.02),(29.3,0.32),(29.8,0.5),
(30.3,0.16),(30.9,0.28),(31.4,0.04),(32.0,0.4),(32.5,0.22),(33.0,0.46),(33.7,0.1),(34.1,0.3),(34.6,0.45),(35.2,0.18),
(35.8,0.02),(36.4,0.36),(37.0,0.2),(37.6,0.48),(38.2,0.08),(38.8,0.3),(39.5,0.14),(40.0,0.42),(40.6,0.25),(41.2,0.05),
(41.8,0.4),(42.4,0.16),(43.0,0.32),(43.6,0.5),(44.3,0.1),(44.9,0.26),(45.6,0.44),(46.3,0.03),(46.9,0.2),(47.6,0.38),
(48.1,0.12),(48.7,0.48),(49.4,0.24),(50.1,0.06),(50.6,0.34),(51.2,0.18),(51.9,0.46),(52.4,0.02),(53.1,0.28),(53.7,0.42),
(54.4,0.12),(55.1,0.3),(55.8,0.48),(56.4,0.08),(57.1,0.36),(57.6,0.16),(58.2,0.46),(58.7,0.26),(59.3,0.05),(59.7,0.38),
(60.3,0.2),(60.8,0.44),(61.3,0.1),(61.9,0.3),(62.4,0.5),(62.9,0.22),(63.5,0.04),(64.0,0.36),(64.4,0.14),(65.0,0.46),
(65.5,0.26),(66.1,0.06),(66.6,0.4),(67.2,0.18),(67.7,0.5),(68.3,0.3),(68.9,0.1),(69.4,0.44),(70.0,0.22),(70.6,0.04),
(71.2,0.35),(71.7,0.16),(72.2,0.48),(72.8,0.28),(73.4,0.08),(74.0,0.4),(74.6,0.2),(75.2,0.46),(75.8,0.1),(76.4,0.32),
(77.0,0.02),(77.6,0.42),(78.2,0.24),(78.8,0.48),(79.3,0.12),(79.9,0.3),(80.6,0.06),(81.2,0.4),(81.7,0.2),(82.3,0.46),
(82.9,0.1),(83.4,0.34),(84.0,0.5),(84.5,0.16),(85.1,0.3),(85.7,0.44),(86.2,0.08),(86.8,0.24),(87.3,0.48),(87.9,0.3),
(88.4,0.04),(89.0,0.38),(89.5,0.18),
(90.2,0.42),(90.8,0.12),(91.4,0.3),(91.9,0.5),(92.6,0.2),(93.1,0.04),(93.7,0.36),(94.2,0.16),(94.8,0.46),(95.4,0.26),
(96.0,0.06),(96.5,0.4),(97.2,0.2),(97.8,0.5),(98.3,0.1),(98.9,0.3),(99.5,0.44),(100.0,0.2),(100.6,0.04),(101.2,0.36),
(101.7,0.14),(102.3,0.48),(102.8,0.26),(103.4,0.06),(104.1,0.42),(104.7,0.18),(105.2,0.38),(105.8,0.1),(106.5,0.48),(107.1,0.26),
(107.7,0.04),(108.2,0.32),(108.8,0.16),(109.3,0.46),(109.9,0.24),(110.4,0.06),(111.0,0.4),(111.6,0.12),(112.1,0.3),(112.7,0.5),
(113.2,0.2),(113.8,0.02),(114.3,0.38),(114.9,0.16),(115.5,0.44),(116.0,0.28),(116.6,0.08),(117.1,0.48),(117.7,0.2),(118.2,0.36),
(118.8,0.1),(119.4,0.44),
(120.2,0.24),(120.8,0.46),(121.4,0.06),(122.0,0.36),(122.6,0.16),(123.1,0.5),(123.7,0.28),(124.1,0.04),(124.6,0.4),(125.2,0.2),
(125.7,0.46),(126.3,0.1),(126.9,0.32),(127.4,0.5),(128.0,0.22),(128.5,0.02),(129.1,0.38),(129.6,0.14),(130.2,0.46),(130.8,0.26),
(131.3,0.06),(131.9,0.4),(132.4,0.2),(133.0,0.5),(133.5,0.12),(134.1,0.32),(134.6,0.46),(135.2,0.04),(135.8,0.26),(136.3,0.44),
(136.9,0.16),(137.4,0.36),(138.0,0.48),(138.6,0.1),(139.1,0.28),(139.7,0.42),(140.2,0.06),(140.8,0.22),(141.3,0.48),(141.9,0.3),
(142.3,0.12),(142.8,0.4),(143.4,0.02),(143.9,0.34),(144.5,0.5),(145.0,0.2),(145.6,0.42),(146.2,0.08),(146.7,0.36),(147.2,0.16),
]

series_names = ["Peak viscosity (PV)", "Breakdown viscosity (BD_SqRt)"]
series_colors = ["rgba(255,0,0,0.62)", "rgba(0,112,192,0.74)"]
legend_dot_colors = ["#ff4040", "#3d8fd0"]
suggestive_threshold = 4.86
significance_threshold = 4.0
x_ticks = [0, 20, 40, 60, 80, 100, 120, 140]
y_ticks = [0, 1, 2, 3, 4, 5, 6, 7]
x_title = "SNP positions in chromosome 10 (Mb)"
y_title = "-log10(P-value)"

# ---------------- figure ----------------
pv_pts = (pv_band_a + pv_band_b + pv_band_c + pv_band_d + pv_band_e + pv_band_f + pv_band_g
          + pv_mid + pv_high)
bd_pts = (bd_band_a + bd_band_b + bd_band_c + bd_band_d + bd_band_e + bd_band_f + bd_band_g
          + bd_band_h + bd_mid + bd_high)

fig = go.Figure()
for pts, name, col in [(pv_pts, series_names[0], series_colors[0]),
                       (bd_pts, series_names[1], series_colors[1])]:
    fig.add_trace(go.Scatter(
        x=[p[0] for p in pts], y=[p[1] for p in pts], mode="markers",
        name=name, cliponaxis=False, showlegend=False,
        marker=dict(size=7.2, color=col, line=dict(width=0)),
    ))

fig.add_shape(type="line", xref="paper", x0=0, x1=1, yref="y",
              y0=suggestive_threshold, y1=suggestive_threshold,
              line=dict(color="#bfbfbf", width=1.5, dash="7px,4px"), layer="below")
fig.add_shape(type="line", xref="paper", x0=0, x1=1, yref="y",
              y0=significance_threshold, y1=significance_threshold,
              line=dict(color="#000000", width=2, dash="8px,4px"), layer="below")

# legend box drawn like the original (small dot right next to the text)
fig.add_shape(type="rect", xref="paper", yref="paper", x0=0.665, x1=0.9885, y0=0.843, y1=0.9677,
              line=dict(color="#d9d9d9", width=1), fillcolor="#f2f2f2", layer="below")
font_family = "Open Sans, Noto Sans, sans-serif"
for i, (name, dcol) in enumerate(zip(series_names, legend_dot_colors)):
    yy = [0.9353, 0.873][i]
    fig.add_annotation(x=0.6878, y=yy, xref="paper", yref="paper", text="●", showarrow=False,
                       xanchor="center", yanchor="middle", font=dict(size=8, color=dcol))
    fig.add_annotation(x=0.6993, y=yy, xref="paper", yref="paper", text=name, showarrow=False,
                       xanchor="left", yanchor="middle",
                       font=dict(size=13.5, color="#404040", family=font_family))

# y-axis title (placed as in the original, slightly above the plot centre)
fig.add_annotation(x=-0.0576, y=0.536, xref="paper", yref="paper", text=y_title, showarrow=False,
                   textangle=-90, xanchor="center", yanchor="middle",
                   font=dict(size=18, color="#404040", family=font_family))

fig.update_layout(
    width=761, height=505,
    margin=dict(l=65, r=1, t=19, b=53),
    paper_bgcolor="white",
    plot_bgcolor="#f2f2f2",
    font=dict(family=font_family, color="#595959", size=15),
    showlegend=False,
    xaxis=dict(
        range=[0, 147.3], tickvals=x_ticks, showgrid=False, zeroline=False,
        showline=True, linecolor="#bfbfbf", linewidth=1.5, mirror=True,
        ticks="outside", ticklen=4, tickcolor="#bfbfbf",
        title=dict(text=x_title, font=dict(size=17, color="#404040"), standoff=6),
    ),
    yaxis=dict(
        range=[0, 7], tickvals=y_ticks, showgrid=False, zeroline=False,
        showline=True, linecolor="#bfbfbf", linewidth=1.5,
        ticks="outside", ticklen=5, tickcolor="#bfbfbf",
    ),
)

fig.write_html("out.html")
